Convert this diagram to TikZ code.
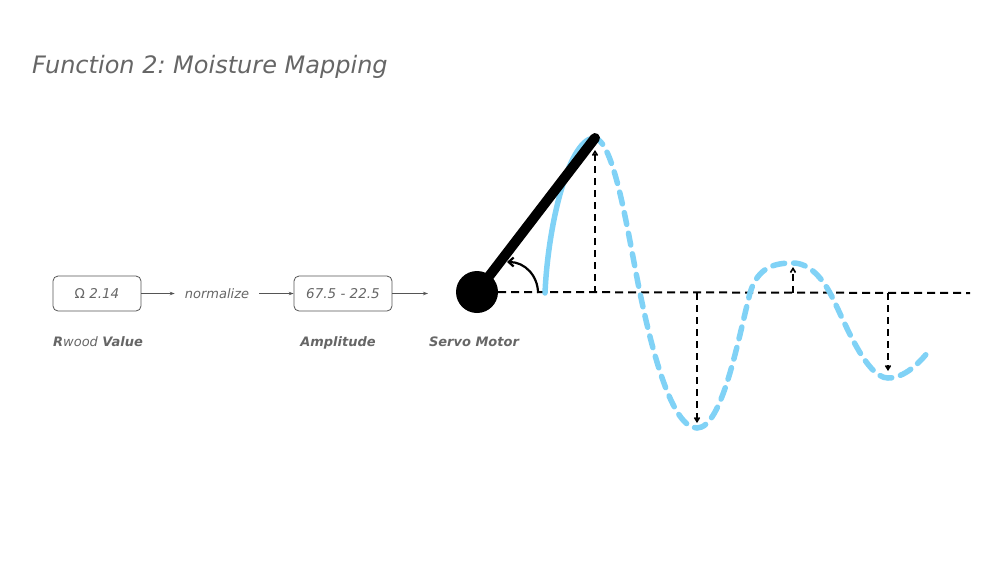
\documentclass[tikz,border=0pt]{standalone}
\usepackage{fontspec}
\setmainfont{DejaVu Sans}
\usetikzlibrary{arrows.meta}
\definecolor{txtgray}{HTML}{666666}
\definecolor{boxgray}{HTML}{555555}
\definecolor{wave}{RGB}{128,210,246}
\frenchspacing
\tikzset{
  valbox/.style={draw=boxgray, line width=0.8pt, rounded corners=5pt, minimum height=35pt, text=txtgray, font=\fontsize{13.5}{15}\selectfont\itshape},
  flow/.style={draw=boxgray, line width=0.8pt, -{Stealth[length=5pt,width=3.5pt]}},
  lbl/.style={text=txtgray, font=\fontsize{13}{15}\selectfont\bfseries\itshape},
  axis/.style={black, line width=2pt, dash pattern=on 8pt off 5pt},
  amp/.style={black, line width=1.6pt, dash pattern=on 7pt off 5pt, -{Straight Barb[length=4pt,width=5pt]}},
  wavesolid/.style={wave, line width=5.5pt, line cap=round},
  wavedash/.style={wave, line width=5.5pt, dash pattern=on 12pt off 9pt, line cap=round},
}
\begin{document}
\begin{tikzpicture}[x=1pt,y=-1pt]
\useasboundingbox (0,0) rectangle (1006,566);
\node[anchor=base west, text=txtgray, font=\fontsize{24}{28}\selectfont\itshape, inner sep=0pt] (title) at (32,73) {Function 2:\ Moisture Mapping};
% flow
\node[valbox, minimum width=88pt] (b1) at (97,293.5) {{\upshape Ω} 2.14};
\node[text=txtgray, font=\fontsize{13}{15}\selectfont\itshape, inner xsep=10pt] (norm) at (217,293.5) {normalize};
\node[valbox, minimum width=98pt] (b2) at (343,293.5) {67.5 - 22.5};
\coordinate (inS) at (428,293.5);
\draw[flow] (b1.east) -- (norm.west);
\draw[flow] (norm.east) -- (b2.west);
\draw[flow] (b2.east) -- (inS);
% labels
\node[lbl, anchor=base] (l1) at (98,346) {R\textmd{wood} Value};
\node[lbl, anchor=base] (l2) at (338,346) {Amplitude};
\node[lbl, anchor=base] (l3) at (474,346) {Servo Motor};
% servo
\node[circle, fill=black, minimum size=42pt, inner sep=0pt] (servo) at (477,292) {};
\coordinate (tip) at (595,138);
\coordinate (axend) at (970,293);
\draw[axis] (servo.east) -- (axend);
% wave
\coordinate (w0) at (545,293);
\coordinate (w1) at (593,138);
\coordinate (w2) at (640,293);
\coordinate (w3) at (697,428);
\coordinate (w4) at (750,293);
\coordinate (w5) at (793,263);
\coordinate (w6) at (830,293);
\coordinate (w7) at (888,378);
\coordinate (w8) at (928,352);
\draw[wavesolid] (w0) .. controls (548,225) and (568,142) .. (w1);
\draw[wavedash] (w1) .. controls (614,136) and (628,235) .. (w2)
  .. controls (652,351) and (672,428) .. (w3)
  .. controls (722,428) and (738,340) .. (w4)
  .. controls (758,266) and (776,263) .. (w5)
  .. controls (809,263) and (822,278) .. (w6)
  .. controls (842,315) and (865,378) .. (w7)
  .. controls (905,378) and (920,362) .. (w8);
% amplitude markers
\coordinate (a1b) at (595,293); \coordinate (a1t) at (595,150);
\coordinate (a2b) at (697,293); \coordinate (a2t) at (697,423);
\coordinate (a3b) at (793,293); \coordinate (a3t) at (793,267);
\coordinate (a4b) at (888,293); \coordinate (a4t) at (888,371);
\draw[amp] (a1b) -- (a1t);
\draw[amp] (a2b) -- (a2t);
\draw[amp] (a3b) -- (a3t);
\draw[amp] (a4b) -- (a4t);
% arm
\draw[black, line width=10pt, line cap=round] (servo.center) -- (tip);
% angle arrow
\coordinate (angs) at (538,293);
\coordinate (ange) at (507,262);
\draw[black, line width=2.2pt, -{Straight Barb[length=5pt,width=9pt]}] (angs) .. controls (538,276) and (525,262) .. (ange);
\end{tikzpicture}
\end{document}
